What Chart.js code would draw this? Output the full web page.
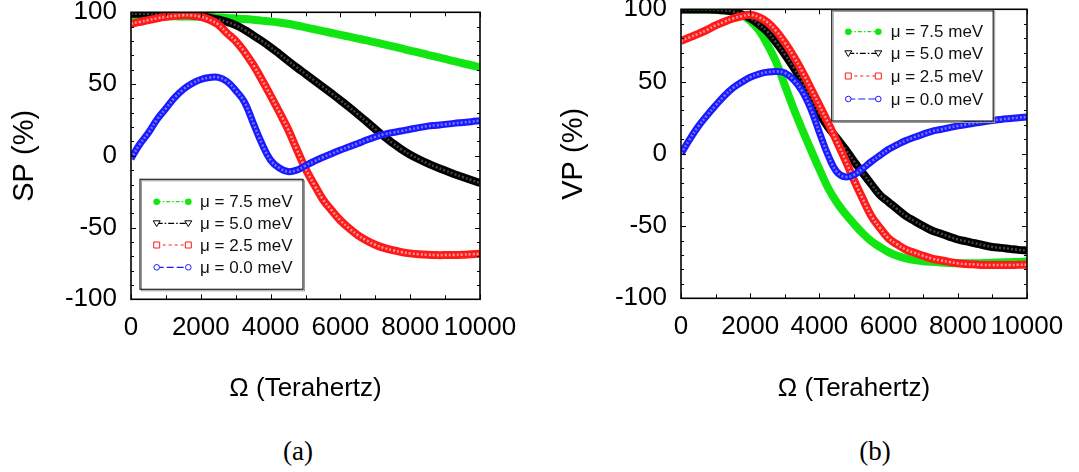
<!DOCTYPE html>
<html>
<head>
<meta charset="utf-8">
<script src="https://cdn.jsdelivr.net/npm/chart.js@4.4.1/dist/chart.umd.min.js"></script>
<style>
  html, body { margin: 0; padding: 0; background: #fff; }
  body { width: 1079px; height: 472px; position: relative; overflow: hidden; }
  canvas { position: absolute; top: 0; }
  .caption {
    position: absolute; top: 436px; width: 80px; text-align: center;
    font-family: "Liberation Serif", "Times New Roman", serif;
    font-size: 27px; line-height: 30px; color: #000;
  }
</style>
</head>
<body>
<canvas id="chartSP" width="540" height="420" style="left:0"></canvas>
<canvas id="chartVP" width="539" height="420" style="left:540px"></canvas>
<div class="caption" style="left:258px">(a)</div>
<div class="caption" style="left:835px">(b)</div>

<script>
// Frequency grid (Terahertz)
const omega = [
  0, 250, 500, 750, 1000, 1250, 1500, 1750, 2000, 2250,
  2500, 2750, 3000, 3250, 3500, 3750, 4000, 4250, 4500, 4750,
  5000, 5250, 5500, 5750, 6000, 6250, 6500, 6750, 7000, 7250,
  7500, 7750, 8000, 8250, 8500, 8750, 9000, 9250, 9500, 9750, 10000
];

// Spin polarization SP (%) for each chemical potential
const spMu75 = [
  97.7, 97.6, 97.5, 97.4, 97.3, 97.2, 97.1, 97.0, 96.9, 96.7,
  96.4, 96.1, 95.7, 95.3, 94.8, 94.2, 93.6, 92.9, 92.0, 90.8,
  89.5, 88.2, 86.9, 85.6, 84.3, 83.0, 81.7, 80.4, 79.1, 77.7,
  76.3, 74.8, 73.3, 71.9, 70.4, 69.0, 67.5, 66.0, 64.5, 63.1, 61.6
];
const spMu50 = [
  99.0, 99.0, 99.0, 99.0, 98.9, 98.7, 98.4, 97.9, 97.2, 96.2,
  95.0, 93.3, 91.0, 87.8, 84.0, 80.0, 75.7, 71.0, 66.2, 61.5,
  57.0, 52.5, 48.0, 43.4, 38.7, 33.9, 28.9, 23.8, 18.6, 13.5,
  8.8, 4.5, 0.8, -2.4, -5.3, -7.9, -10.3, -12.6, -14.8, -16.9, -19.0
];
const spMu25 = [
  92.0, 93.3, 94.6, 95.8, 96.8, 97.5, 97.9, 97.8, 96.9, 94.8,
  91.5, 85.5, 80.0, 72.5, 63.5, 53.0, 42.0, 30.5, 18.5, 4.5,
  -9.0, -20.0, -30.4, -38.0, -45.0, -50.5, -55.3, -59.0, -62.0, -64.2,
  -65.8, -67.1, -68.0, -68.6, -69.0, -69.2, -69.2, -69.1, -68.9, -68.6, -68.3
];
const spMu00 = [
  -2.0, 8.0, 16.0, 25.5, 33.0, 40.5, 46.3, 50.4, 53.2, 54.5,
  54.7, 51.8, 45.5, 37.5, 23.0, 8.5, -3.0, -8.5, -11.0, -10.0,
  -6.8, -3.8, -1.0, 1.5, 4.0, 6.3, 8.6, 11.0, 13.2, 15.0,
  16.2, 17.3, 18.5, 19.6, 20.7, 21.3, 21.9, 22.6, 23.2, 23.8, 24.5
];

// Valley polarization VP (%) for each chemical potential
const vpMu75 = [
  99.8, 99.8, 99.8, 99.8, 99.6, 99.2, 98.4, 96.3, 92.0, 85.5,
  75.5, 63.5, 47.5, 31.6, 17.0, 3.0, -10.6, -23.5, -33.5, -41.5,
  -48.5, -55.0, -60.5, -64.5, -68.0, -70.5, -72.3, -73.5, -74.3, -74.8,
  -75.2, -75.5, -75.7, -75.8, -75.8, -75.6, -75.4, -75.2, -75.0, -74.8, -74.6
];
const vpMu50 = [
  99.8, 99.8, 99.8, 99.8, 99.6, 99.3, 98.5, 96.5, 93.7, 89.5,
  84.3, 77.0, 68.8, 59.8, 50.1, 38.5, 27.5, 18.5, 11.0, 3.2,
  -5.2, -13.2, -21.0, -28.5, -33.4, -38.3, -43.0, -46.6, -50.0, -53.1,
  -55.2, -57.3, -59.3, -60.6, -61.9, -63.3, -64.5, -65.1, -65.8, -66.5, -67.0
];
const vpMu25 = [
  78.0, 80.6, 83.0, 85.7, 88.8, 91.4, 93.6, 95.2, 96.2, 94.5,
  91.0, 85.0, 77.0, 67.6, 57.1, 45.4, 33.5, 21.5, 8.7, -4.3,
  -18.2, -31.0, -43.0, -51.3, -58.6, -62.7, -66.3, -68.5, -70.6, -72.5,
  -73.7, -74.8, -75.8, -76.3, -76.6, -76.9, -77.0, -77.0, -77.0, -76.8, -76.7
];
const vpMu00 = [
  0.0, 10.0, 19.0, 26.5, 33.5, 40.0, 45.5, 49.5, 53.0, 55.2,
  56.5, 57.0, 56.0, 51.3, 43.5, 31.2, 14.8, -0.9, -12.4, -16.0,
  -14.5, -10.2, -5.4, -1.1, 3.1, 6.3, 9.2, 11.5, 13.6, 15.6,
  16.8, 18.1, 19.3, 20.3, 21.3, 22.2, 23.1, 23.8, 24.4, 25.0, 25.5
];

const seriesLabels = ['\u03bc = 7.5 meV', '\u03bc = 5.0 meV', '\u03bc = 2.5 meV', '\u03bc = 0.0 meV'];
const xTickValues = [0, 2000, 4000, 6000, 8000, 10000];
const yTickValues = [-100, -50, 0, 50, 100];

const FONT = "'Liberation Sans', Arial, Helvetica, sans-serif";

// Look of each curve: colour, band width, hollow-marker speckle, legend dash and marker
const looks = [
  { color: '#12e612', width: 8, speckle: null, dash: [4, 2, 1.5, 2], marker: 'dot' },
  { color: '#000000', width: 8, speckle: 'rgba(255,255,255,0.28)', dash: [6, 2, 1.5, 2], marker: 'triangle' },
  { color: '#ff1a1a', width: 8, speckle: 'rgba(255,255,255,0.55)', dash: [3, 3], marker: 'square' },
  { color: '#1a1aff', width: 7, speckle: 'rgba(255,255,255,0.4)', dash: [7, 3], marker: 'ring' }
];

function toPoints(values) {
  return omega.map((w, i) => ({ x: w, y: values[i] }));
}

function makeDatasets(seriesList) {
  const sets = [];
  seriesList.forEach((values, i) => {
    const look = looks[i];
    const common = {
      data: toPoints(values),
      pointRadius: 0,
      tension: 0.4,
      clip: 0
    };
    sets.push(Object.assign({}, common, {
      label: seriesLabels[i],
      borderColor: look.color,
      backgroundColor: look.color,
      borderWidth: look.width,
      order: 2 * (3 - i) + 1,
      inKey: true,
      legendDash: look.dash,
      legendMarker: look.marker
    }));
    if (look.speckle) {
      // light dotted core that gives the band its open-marker texture
      sets.push(Object.assign({}, common, {
        label: seriesLabels[i] + ' core',
        borderColor: look.speckle,
        borderWidth: 2.5,
        borderDash: [2, 2],
        order: 2 * (3 - i),
        inKey: false
      }));
    }
  });
  return sets;
}

function drawMarker(ctx, kind, x, y, color) {
  ctx.save();
  ctx.setLineDash([]);
  ctx.lineWidth = 1;
  ctx.strokeStyle = color;
  ctx.fillStyle = color;
  ctx.beginPath();
  if (kind === 'dot') {
    ctx.arc(x, y, 3.3, 0, Math.PI * 2);
    ctx.fill();
  } else if (kind === 'ring') {
    ctx.arc(x, y, 2.8, 0, Math.PI * 2);
    ctx.fillStyle = '#fff'; ctx.fill(); ctx.stroke();
  } else if (kind === 'square') {
    ctx.rect(x - 3, y - 3, 6, 6);
    ctx.fillStyle = '#fff'; ctx.fill(); ctx.stroke();
  } else if (kind === 'triangle') {
    ctx.moveTo(x - 3.5, y - 2.5); ctx.lineTo(x + 3.5, y - 2.5); ctx.lineTo(x, y + 3.2); ctx.closePath();
    ctx.fillStyle = '#fff'; ctx.fill(); ctx.stroke();
  }
  ctx.restore();
}

// Key box placed inside the plotting frame
const insideLegend = {
  id: 'insideLegend',
  afterDraw(chart, args, opts) {
    const { ctx, chartArea } = chart;
    const bx = chartArea.left + opts.dx, by = chartArea.top + opts.dy;
    ctx.save();
    ctx.fillStyle = '#fff';
    ctx.fillRect(bx, by, opts.w, opts.h);
    ctx.strokeStyle = '#9a9a9a';
    ctx.lineWidth = 1;
    ctx.strokeRect(bx + 1.5, by + 1.5, opts.w, opts.h);
    ctx.strokeStyle = '#222';
    ctx.lineWidth = 1.2;
    ctx.strokeRect(bx, by, opts.w, opts.h);
    ctx.font = '17px ' + FONT;
    ctx.textBaseline = 'middle';
    ctx.textAlign = 'left';
    chart.data.datasets.filter(ds => ds.inKey).forEach((ds, i) => {
      const ry = by + opts.rows[i];
      const x1 = bx + opts.sx1, x2 = bx + opts.sx2;
      ctx.save();
      ctx.strokeStyle = ds.borderColor;
      ctx.lineWidth = 1.2;
      ctx.setLineDash(ds.legendDash);
      ctx.beginPath(); ctx.moveTo(x1, ry); ctx.lineTo(x2, ry); ctx.stroke();
      ctx.restore();
      drawMarker(ctx, ds.legendMarker, x1, ry, ds.borderColor);
      drawMarker(ctx, ds.legendMarker, x2, ry, ds.borderColor);
      ctx.fillStyle = '#111';
      ctx.fillText(ds.label, bx + opts.tx, ry + 1);
    });
    ctx.restore();
  }
};

// Closed frame with inward ticks on all four sides
const frameTicks = {
  id: 'frameTicks',
  afterDatasetsDraw(chart) {
    const { ctx, chartArea: { left, right, top, bottom }, scales: { x, y } } = chart;
    ctx.save();
    ctx.strokeStyle = '#000';
    ctx.lineWidth = 1;
    ctx.beginPath();
    for (let v = x.min; v <= x.max; v += 1000) {
      const px = Math.round(x.getPixelForValue(v)) + 0.5;
      const len = xTickValues.includes(v) ? 5 : 4;
      ctx.moveTo(px, bottom); ctx.lineTo(px, bottom - len);
      ctx.moveTo(px, top); ctx.lineTo(px, top + len);
    }
    for (let v = y.min; v <= y.max; v += 10) {
      const py = Math.round(y.getPixelForValue(v)) + 0.5;
      const len = yTickValues.includes(v) ? 5 : 3;
      ctx.moveTo(left, py); ctx.lineTo(left + len, py);
      ctx.moveTo(right, py); ctx.lineTo(right - len, py);
    }
    ctx.stroke();
    ctx.lineWidth = 1.6;
    ctx.strokeRect(left, top, right - left, bottom - top);
    ctx.restore();
  }
};

function makeChart(canvasId, seriesList, yTitle, geom, legendOpts) {
  const tickFont = { family: FONT, size: 26 };
  return new Chart(document.getElementById(canvasId), {
    type: 'line',
    data: { datasets: makeDatasets(seriesList) },
    options: {
      responsive: false,
      animation: false,
      layout: { padding: { left: 0, right: geom.padRight, top: geom.padTop, bottom: 0 } },
      scales: {
        x: {
          type: 'linear', min: 0, max: 10000,
          grid: { display: false, drawTicks: false },
          border: { display: false },
          ticks: {
            stepSize: 2000, padding: 13, color: '#000', font: tickFont,
            maxRotation: 0, autoSkip: false, callback: v => String(v)
          },
          title: {
            display: true, text: '\u03a9 (Terahertz)', color: '#000',
            font: { family: FONT, size: 26 }, padding: { top: 0, bottom: 16 }
          },
          afterFit(s) { s.height = geom.xAxisHeight; s.paddingLeft = 0; s.paddingRight = 0; }
        },
        y: {
          min: -100, max: 100,
          grid: { display: false, drawTicks: false },
          border: { display: false },
          ticks: { stepSize: 50, padding: 14, color: '#000', font: tickFont },
          title: {
            display: true, text: yTitle, color: '#000',
            font: { family: FONT, size: 29 }, padding: { top: geom.yTitlePad, bottom: 0 }
          },
          afterFit(s) { s.width = geom.yAxisWidth; s.paddingTop = 0; s.paddingBottom = 0; }
        }
      },
      plugins: {
        legend: { display: false },
        tooltip: { enabled: false },
        insideLegend: legendOpts
      }
    },
    plugins: [frameTicks, insideLegend]
  });
}

makeChart('chartSP', [spMu75, spMu50, spMu25, spMu00], 'SP (%)',
  { padRight: 60, padTop: 12.3, xAxisHeight: 120.7, yAxisWidth: 131, yTitlePad: 7.5 },
  { dx: 9, dy: 167, w: 163, h: 110, sx1: 16.7, sx2: 48.3, tx: 60, rows: [22.4, 44, 65.7, 88] });

makeChart('chartVP', [vpMu75, vpMu50, vpMu25, vpMu00], 'VP (%)',
  { padRight: 52, padTop: 9.3, xAxisHeight: 121.7, yAxisWidth: 141, yTitlePad: 16.5 },
  { dx: 150.7, dy: 0.7, w: 161.5, h: 111, sx1: 16.6, sx2: 46.6, tx: 59, rows: [21.7, 43.3, 66, 89] });
</script>
</body>
</html>
